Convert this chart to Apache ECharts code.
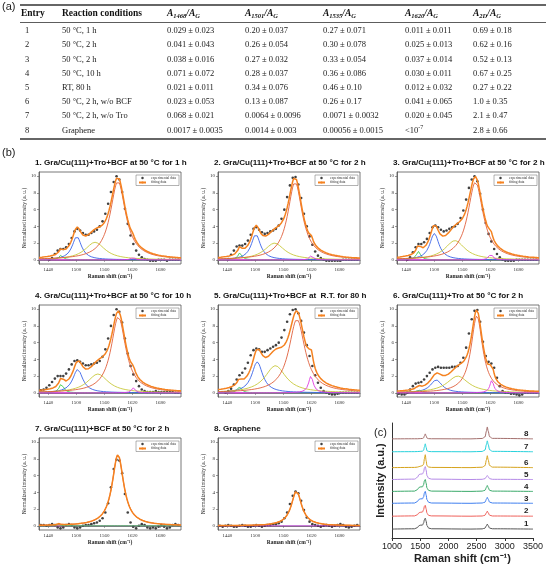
<!DOCTYPE html>
<html>
<head>
<meta charset="utf-8">
<script src="https://cdn.jsdelivr.net/npm/echarts@6/dist/echarts.min.js"></script>
<style>
html, body { margin: 0; padding: 0; background: #fff; }
#chart { width: 546px; height: 565px; }
</style>
</head>
<body>
<div id="chart"></div>
<script>
// ---------- (a) table ----------
var entries = ['1', '2', '3', '4', '5', '6', '7', '8'];
var conditions = ['50 °C, 1 h', '50 °C, 2 h', '50 °C, 2 h', '50 °C, 10 h', 'RT, 80 h',
    '50 °C, 2 h, w/o BCF', '50 °C, 2 h, w/o Tro', 'Graphene'];
var ratioBands = ['1468', '1501', '1535', '1620', '2D'];
var a1468 = ['0.029 ± 0.023', '0.041 ± 0.043', '0.038 ± 0.016', '0.071 ± 0.072', '0.021 ± 0.011', '0.023 ± 0.053', '0.068 ± 0.021', '0.0017 ± 0.0035'];
var a1501 = ['0.20 ± 0.037', '0.26 ± 0.054', '0.27 ± 0.032', '0.28 ± 0.037', '0.34 ± 0.076', '0.13 ± 0.087', '0.0064 ± 0.0096', '0.0014 ± 0.003'];
var a1535 = ['0.27 ± 0.071', '0.30 ± 0.078', '0.33 ± 0.054', '0.36 ± 0.086', '0.46 ± 0.10', '0.26 ± 0.17', '0.0071 ± 0.0032', '0.00056 ± 0.0015'];
var a1620 = ['0.011 ± 0.011', '0.025 ± 0.013', '0.037 ± 0.014', '0.030 ± 0.011', '0.012 ± 0.032', '0.041 ± 0.065', '0.020 ± 0.045', '<10{sup|-7}'];
var a2d = ['0.69 ± 0.18', '0.62 ± 0.16', '0.52 ± 0.13', '0.67 ± 0.25', '0.27 ± 0.22', '1.0 ± 0.35', '2.1 ± 0.47', '2.8 ± 0.66'];

// ---------- (b) fitted Raman spectra ----------
var plotTitles = [
    '1. Gra/Cu(111)+Tro+BCF at 50 °C for 1 h',
    '2. Gra/Cu(111)+Tro+BCF at 50 °C for 2 h',
    '3. Gra/Cu(111)+Tro+BCF at 50 °C for 2 h',
    '4. Gra/Cu(111)+Tro+BCF at 50 °C for 10 h',
    '5. Gra/Cu(111)+Tro+BCF at  R.T. for 80 h',
    '6. Gra/Cu(111)+Tro at 50 °C for 2 h',
    '7. Gra/Cu(111)+BCF at 50 °C for 2 h',
    '8. Graphene'
];
var xTicks = [1440, 1500, 1560, 1620, 1680];
var yTicks = [0, 2, 4, 6, 8, 10];

// fitted peaks: [centre cm-1, height, FWHM]
var peaksGreen   = [[1467, 0.55, 10], [1467, 0.85, 10], [1466, 1.0, 11], [1468, 1.1, 11], [1466, 0.7, 11], [1466, 0.35, 10], [1462, 0.15, 8], null];
var peaksBlue    = [[1501, 2.8, 24], [1501, 3.05, 24], [1500, 3.15, 24], [1503, 2.8, 26], [1504, 3.7, 28], [1504, 1.55, 30], null, null];
var peaksYellow  = [[1540, 2.1, 52], [1541, 2.0, 52], [1544, 2.3, 52], [1546, 2.25, 54], [1543, 3.25, 54], [1550, 2.0, 56], null, null];
var peaksRed     = [[1589, 9.4, 40], [1585, 9.3, 38], [1588, 9.3, 40], [1590, 9.1, 38], [1589, 8.8, 42], [1591, 9.2, 30], [1589, 8.5, 30], [1588, 4.15, 27]];
var peaksMagenta = [[1621, 0.3, 8], [1620, 0.55, 8], [1621, 0.75, 9], [1622, 0.6, 9], [1619, 2.0, 12], [1623, 1.5, 10], null, null];
var baselineLevel = [0, 0, 0, 0, 0, 0, 0, 0];

var dotX = [1424, 1430, 1436, 1442, 1448, 1454, 1460, 1466, 1472, 1478, 1484, 1490, 1496, 1502, 1508, 1514, 1520, 1526, 1532, 1538,
    1544, 1550, 1556, 1562, 1568, 1574, 1580, 1586, 1592, 1598, 1604, 1610, 1616, 1622, 1628, 1634, 1640, 1646, 1652, 1658,
    1664, 1670, 1676, 1682, 1688, 1694, 1700, 1706, 1712, 1718];
var dots1 = [null, null, null, 0.0, 0.2, 0.7, 1.1, 1.3, 1.3, 1.5, 1.9, 2.6, 3.4, 3.7, 3.5, 3.2, 3.0, 3.0, 3.2, 3.4,
    3.6, 4.0, 4.6, 5.5, 6.7, 8.1, 9.3, 10.0, 9.6, 8.1, 6.1, 4.3, 2.9, 1.9, 1.1, 0.6, 0.3, 0.1, 0.0, -0.1,
    -0.1, -0.1, 0.0, 0.0, 0.0, -0.1, 0.0, 0.0, 0.0, 0.0];
var dots2 = [null, null, null, 0.1, 0.6, 1.1, 1.6, 1.7, 1.7, 1.9, 2.3, 3.0, 3.7, 3.9, 3.6, 3.3, 3.1, 3.2, 3.4, 3.5,
    3.7, 4.1, 4.9, 6.0, 7.5, 8.9, 9.8, 9.9, 9.0, 7.4, 5.5, 4.0, 2.8, 1.8, 1.0, 0.5, 0.2, 0.0, -0.1, -0.1,
    -0.1, -0.1, -0.1, -0.1, 0.0, 0.0, 0.0, 0.0, 0.0, 0.0];
var dots3 = [null, null, null, 0.0, 0.3, 0.9, 1.5, 1.9, 1.9, 2.1, 2.5, 3.2, 3.9, 4.1, 3.9, 3.6, 3.4, 3.5, 3.7, 3.9,
    4.0, 4.3, 5.0, 5.9, 7.2, 8.6, 9.6, 10.0, 9.4, 7.9, 6.0, 4.4, 3.1, 2.2, 1.3, 0.7, 0.3, 0.0, -0.1, -0.1,
    -0.1, -0.1, 0.0, 0.0, 0.0, 0.0, 0.0, 0.0, 0.0, 0.0];
var dots4 = [0.3, 0.4, 0.6, 0.9, 1.3, 1.7, 2.0, 2.0, 2.0, 2.3, 2.8, 3.4, 3.8, 3.9, 3.7, 3.5, 3.3, 3.3, 3.4, 3.5,
    3.6, 3.8, 4.3, 5.2, 6.5, 8.0, 9.3, 10.0, 9.7, 8.4, 6.5, 4.7, 3.2, 2.2, 1.4, 0.8, 0.4, 0.2, 0.1, 0.1,
    0.1, 0.2, 0.1, 0.1, 0.1, 0.1, 0.1, 0.1, 0.0, 0.0];
var dots5 = [null, null, 0.0, 0.2, 0.5, 1.0, 1.6, 2.1, 2.4, 2.9, 3.6, 4.5, 5.1, 5.3, 5.2, 4.9, 4.9, 5.1, 5.3, 5.5,
    5.7, 6.0, 6.6, 7.5, 8.5, 9.4, 9.9, 10.0, 9.5, 8.6, 7.2, 5.7, 4.4, 3.2, 2.1, 1.2, 0.6, 0.2, 0.0, -0.1,
    -0.2, -0.2, -0.1, 0.0, 0.0, 0.0, 0.0, 0.0, 0.0, 0.0];
var dots6 = [-0.1, -0.2, -0.2, 0.0, 0.4, 0.8, 1.1, 1.2, 1.3, 1.6, 2.0, 2.4, 2.8, 3.0, 3.1, 3.0, 3.0, 3.0, 3.0, 3.1,
    3.1, 3.2, 3.6, 4.2, 5.4, 7.1, 8.8, 9.8, 9.9, 8.5, 6.1, 4.4, 3.7, 3.5, 3.0, 1.8, 0.8, 0.2, 0.0, 0.0,
    -0.1, -0.1, -0.2, -0.3, -0.2, 0.0, 0.0, 0.0, 0.0, 0.0];
var dots7 = [0.1, 0.1, 0.0, 0.1, 0.2, 0.1, -0.2, -0.3, -0.2, 0.1, 0.2, 0.1, -0.2, -0.3, -0.2, 0.0, 0.1, 0.1, 0.2, 0.3,
    0.4, 0.6, 0.9, 1.6, 2.7, 4.6, 6.8, 7.9, 7.8, 6.3, 3.8, 1.6, 0.4, -0.1, -0.3, 0.0, 0.2, 0.1, -0.2, -0.3,
    -0.2, -0.3, -0.1, 0.1, -0.1, -0.3, -0.2, 0.1, 0.2, 0.1];
var dots8 = [0.0, -0.1, 0.0, 0.1, 0.0, -0.1, -0.1, 0.0, 0.1, 0.0, -0.1, -0.1, 0.0, 0.1, 0.0, -0.1, 0.0, 0.1, 0.1, 0.2,
    0.2, 0.3, 0.5, 0.9, 1.6, 2.6, 3.6, 4.1, 3.9, 3.0, 1.9, 1.0, 0.5, 0.2, 0.1, 0.0, -0.1, 0.0, 0.1, 0.0,
    -0.1, 0.0, 0.1, 0.2, 0.1, -0.1, -0.2, -0.1, 0.0, 0.1];
var dotSets = [dots1, dots2, dots3, dots4, dots5, dots6, dots7, dots8];

// ---------- (c) stacked spectra ----------
var ramanX = [1000, 1400, 1450, 1480, 1510, 1540, 1560, 1575, 1590, 1605, 1620, 1650, 1700, 2400, 2600, 2650, 2675, 2690, 2705, 2730, 2780, 3500];
var spec1 = [0, 0.3, 1.5, 3.5, 4, 4, 6, 9.5, 11, 8, 3.5, 1, 0.3, 0, 0.2, 1, 3.5, 5, 3.5, 1, 0.3, 0];
var spec2 = [0, 0.3, 1.5, 3.5, 4, 4.2, 6.5, 10, 11, 7.5, 3, 0.8, 0.3, 0, 0.2, 1, 3.5, 5, 3.5, 1, 0.2, 0];
var spec3 = [0, 0.3, 1.8, 4, 4.5, 4.5, 6.5, 10.5, 12, 8.5, 3.5, 1, 0.3, 0, 0.3, 1.2, 4.2, 6, 4.2, 1.2, 0.3, 0];
var spec4 = [0, 0.3, 1.8, 4, 4.6, 4.6, 6.8, 10.8, 12, 8.3, 3.3, 1, 0.3, 0, 0.3, 1.2, 4.2, 6, 4, 1.1, 0.3, 0];
var spec5 = [0, 0.4, 2.2, 5, 5.5, 5.6, 7.5, 11.5, 13, 9.5, 4, 1.2, 0.4, 0, 0.2, 0.9, 2.8, 4, 2.8, 0.9, 0.2, 0];
var spec6 = [0, 0.2, 0.5, 1, 1.5, 2, 3.5, 9, 13, 7, 2, 0.6, 0.2, 0, 0.4, 2, 8, 12, 8, 2.2, 0.5, 0];
var spec7 = [0, 0.1, 0.2, 0.3, 0.4, 0.6, 1.5, 5, 8, 4.5, 1, 0.3, 0.1, 0, 0.3, 1.8, 7.5, 11, 7.5, 2, 0.4, 0];
var spec8 = [0, 0.1, 0.1, 0.2, 0.3, 0.4, 1, 3, 5, 3, 0.8, 0.2, 0.1, 0, 0.4, 2, 8, 12, 8, 2.2, 0.5, 0];
var specSets = [spec1, spec2, spec3, spec4, spec5, spec6, spec7, spec8];
var specLabels = ['1', '2', '3', '4', '5', '6', '7', '8'];

// ---------- layout / style ----------
var colLeft = [39, 218, 397];
var rowTop = [172, 305, 438];
var plotW = 142, plotH = 92;
var stackShift = [9, 22, 35, 47, 59, 71, 87, 100];
var specColors = ['#555555', '#f0605a', '#3f7ff0', '#3aaa6a', '#b58ae8', '#d6a31c', '#28d2dc', '#a4706e'];
var compColors = { green: '#3ccf4e', blue: '#3a63e8', yellow: '#c8c83c', red: '#e0603c', magenta: '#e03ce0', base: '#b040c8' };
var serif = 'Liberation Serif';
var sans = 'Liberation Sans';

function lorentz(x, p) {
    if (!p) return 0;
    var d = (x - p[0]) / (p[2] / 2);
    return p[1] / (1 + d * d);
}
function plain(v) { return String(v); }

function buildOption() {
    var grids = [], xAxes = [], yAxes = [], series = [], legends = [], graphics = [];

    // table
    var colX = [25, 62, 167, 245, 323, 405, 473];
    var headY = 14, rowY0 = 31, rowStep = 14.2;
    graphics.push({ type: 'line', shape: { x1: 20, y1: 5, x2: 546, y2: 5 }, style: { stroke: '#333', lineWidth: 1.5 } });
    graphics.push({ type: 'line', shape: { x1: 20, y1: 22.5, x2: 546, y2: 22.5 }, style: { stroke: '#333', lineWidth: 0.8 } });
    graphics.push({ type: 'line', shape: { x1: 20, y1: 139, x2: 546, y2: 139 }, style: { stroke: '#333', lineWidth: 1.5 } });
    graphics.push({ type: 'text', x: 2, y: 7, style: { text: '(a)', font: '11px ' + sans, fill: '#222', verticalAlign: 'middle' } });
    graphics.push({ type: 'text', x: 21, y: headY, style: { text: 'Entry', font: 'bold 9.5px ' + serif, fill: '#111', verticalAlign: 'middle' } });
    graphics.push({ type: 'text', x: colX[1], y: headY, style: { text: 'Reaction conditions', font: 'bold 9.5px ' + serif, fill: '#111', verticalAlign: 'middle' } });
    ratioBands.forEach(function (b, j) {
        graphics.push({ type: 'text', x: colX[2 + j], y: headY, style: {
            text: '{i|A}{s|' + b + '}{i|/A}{s|G}', verticalAlign: 'middle',
            rich: {
                i: { fontFamily: serif, fontSize: 9.5, fontWeight: 'bold', fontStyle: 'italic', fill: '#111' },
                s: { fontFamily: serif, fontSize: 6.5, fontWeight: 'bold', fontStyle: 'italic', fill: '#111', padding: [4, 0, 0, 0] }
            }
        } });
    });
    var tableCols = [entries, conditions, a1468, a1501, a1535, a1620, a2d];
    tableCols.forEach(function (col, j) {
        col.forEach(function (t, i) {
            graphics.push({ type: 'text', x: colX[j], y: rowY0 + i * rowStep, style: {
                text: t, font: '8.5px ' + serif, fill: '#222', verticalAlign: 'middle',
                rich: { sup: { fontFamily: serif, fontSize: 6, fill: '#222', padding: [0, 0, 5, 0] } }
            } });
        });
    });

    // (b) panels
    graphics.push({ type: 'text', x: 2, y: 153, style: { text: '(b)', font: '11px ' + sans, fill: '#222', verticalAlign: 'middle' } });
    var fitX = [];
    for (var v = 1420; v <= 1724; v += 2) fitX.push(v);

    for (var k = 0; k < 8; k++) {
        var gLeft = colLeft[k % 3], gTop = rowTop[Math.floor(k / 3)];
        grids.push({ left: gLeft, top: gTop, width: plotW, height: plotH, show: true, borderColor: '#555', borderWidth: 0.8 });
        xAxes.push({
            gridIndex: k, type: 'value', min: 1420, max: 1724,
            name: 'Raman shift (cm⁻¹)', nameLocation: 'middle', nameGap: 10,
            nameTextStyle: { fontFamily: serif, fontSize: 5.5, fontWeight: 'bold', color: '#222' },
            axisLine: { lineStyle: { color: '#555', width: 0.8 } },
            axisTick: { length: 2, customValues: xTicks.slice(), lineStyle: { color: '#555', width: 0.6 } },
            axisLabel: { customValues: xTicks.slice(), formatter: plain, fontFamily: serif, fontSize: 5, color: '#333', margin: 3 },
            splitLine: { show: false }
        });
        yAxes.push({
            gridIndex: k, type: 'value', min: -0.5, max: 10.5,
            name: 'Normalized intensity (a. u.)', nameLocation: 'middle', nameGap: 9, nameRotate: 90,
            nameTextStyle: { fontFamily: serif, fontSize: 5.5, color: '#222' },
            axisLine: { lineStyle: { color: '#555', width: 0.8 } },
            axisTick: { length: 2, customValues: yTicks.slice(), lineStyle: { color: '#555', width: 0.6 } },
            axisLabel: { customValues: yTicks.slice(), formatter: plain, fontFamily: serif, fontSize: 5, color: '#333', margin: 3 },
            splitLine: { show: false }
        });
        graphics.push({ type: 'text', x: gLeft - 4, y: gTop - 9,
            style: { text: plotTitles[k], font: 'bold 8.1px ' + sans, fill: '#111', verticalAlign: 'middle' } });

        var comps = [
            [peaksGreen[k], compColors.green], [peaksBlue[k], compColors.blue], [peaksYellow[k], compColors.yellow],
            [peaksRed[k], compColors.red], [peaksMagenta[k], compColors.magenta]
        ];
        var lvl = baselineLevel[k];
        series.push({
            type: 'line', name: 'baseline', xAxisIndex: k, yAxisIndex: k, silent: true, symbol: 'none',
            data: [[1420, lvl], [1724, lvl]],
            lineStyle: { color: compColors.base, width: 1 }
        });
        comps.forEach(function (c) {
            if (!c[0]) return;
            series.push({
                type: 'line', name: 'component', xAxisIndex: k, yAxisIndex: k, silent: true, symbol: 'none',
                data: fitX.map(function (x) { return [x, lorentz(x, c[0]) + lvl]; }),
                lineStyle: { color: c[1], width: 0.9 }
            });
        });
        series.push({
            type: 'line', name: 'fitting data', xAxisIndex: k, yAxisIndex: k, symbol: 'none',
            data: fitX.map(function (x) {
                var s = lvl;
                comps.forEach(function (c) { s += lorentz(x, c[0]); });
                return [x, s];
            }),
            itemStyle: { color: '#f58220' },
            lineStyle: { color: '#f58220', width: 1.5 }
        });
        var pts = [];
        dotX.forEach(function (x, i) { if (dotSets[k][i] !== null) pts.push([x, dotSets[k][i]]); });
        series.push({
            type: 'scatter', name: 'experimental data', xAxisIndex: k, yAxisIndex: k,
            data: pts, symbolSize: 2.6, itemStyle: { color: '#111' }
        });
        legends.push({
            data: ['experimental data', 'fitting data'], orient: 'vertical',
            right: 546 - (gLeft + plotW) + 2, top: gTop + 3,
            itemWidth: 7, itemHeight: 2.5, itemGap: 0.5, padding: [1, 3, 1, 2],
            backgroundColor: '#fff', borderColor: '#666', borderWidth: 0.5,
            textStyle: { fontFamily: serif, fontSize: 3.5, color: '#333' }
        });
    }

    // (c) panel
    var cIdx = 8;
    grids.push({ left: 392, top: 423, width: 145, height: 116, show: false });
    xAxes.push({
        gridIndex: cIdx, type: 'value', min: 1000, max: 3500, interval: 500,
        name: 'Raman shift (cm⁻¹)', nameLocation: 'middle', nameGap: 15,
        nameTextStyle: { fontFamily: sans, fontSize: 11, fontWeight: 'bold', color: '#222' },
        axisLine: { lineStyle: { color: '#333', width: 1 } },
        axisTick: { length: 3, lineStyle: { color: '#333' } },
        axisLabel: { formatter: plain, fontFamily: sans, fontSize: 9, color: '#222', margin: 4 },
        splitLine: { show: false }
    });
    yAxes.push({
        gridIndex: cIdx, type: 'value', min: 0, max: 116,
        name: 'Intensity (a.u.)', nameLocation: 'middle', nameGap: 6, nameRotate: 90,
        nameTextStyle: { fontFamily: sans, fontSize: 11, fontWeight: 'bold', color: '#222' },
        axisLine: { lineStyle: { color: '#333', width: 1 } },
        axisTick: { show: false }, axisLabel: { show: false }, splitLine: { show: false }
    });
    specSets.forEach(function (s, i) {
        series.push({
            type: 'line', name: 'spec' + specLabels[i], xAxisIndex: cIdx, yAxisIndex: cIdx, symbol: 'none',
            smooth: 0.3, smoothMonotone: 'x',
            data: ramanX.map(function (x, j) { return [x, s[j] + stackShift[i]]; }),
            lineStyle: { color: specColors[i], width: 1 },
            endLabel: { show: true, formatter: specLabels[i], offset: [-17, -5],
                fontFamily: sans, fontSize: 8, fontWeight: 'bold', color: '#222' }
        });
    });
    graphics.push({ type: 'text', x: 374, y: 433, style: { text: '(c)', font: '11px ' + sans, fill: '#222', verticalAlign: 'middle' } });

    return {
        animation: false,
        backgroundColor: '#fff',
        grid: grids,
        xAxis: xAxes,
        yAxis: yAxes,
        legend: legends,
        series: series,
        graphic: { elements: graphics }
    };
}

var chart = echarts.init(document.getElementById('chart'));
chart.setOption(buildOption());
</script>
</body>
</html>
